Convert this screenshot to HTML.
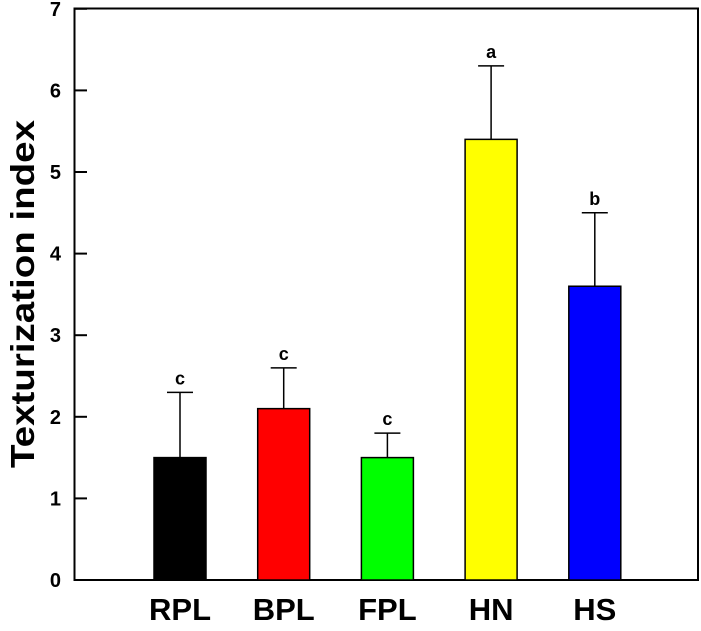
<!DOCTYPE html>
<html><head><meta charset="utf-8"><style>
html,body{margin:0;padding:0;background:#fff;}
svg text{font-family:"Liberation Sans",Arial,sans-serif;font-weight:bold;fill:#000;}
</style></head><body>
<svg id="chart" width="701" height="626" xmlns="http://www.w3.org/2000/svg">
<rect x="74.5" y="8.5" width="623.5" height="571.5" fill="none" stroke="#000" stroke-width="2"/>
<text transform="translate(34,294) rotate(-90)" text-anchor="middle" font-size="33" textLength="348" lengthAdjust="spacingAndGlyphs">Texturization index</text>
<g id="ticks"></g>
<g id="bars"></g>
</svg>
<script>
const categories = ["RPL","BPL","FPL","HN","HS"];
const values = [1.5, 2.1, 1.5, 5.4, 3.6];
const errors = [0.8, 0.5, 0.3, 0.9, 0.9];
const letters = ["c","c","c","a","b"];
const colors = ["#000000","#ff0000","#00ff00","#ffff00","#0000ff"];
const yTicks = [0,1,2,3,4,5,6,7];

const NS = "http://www.w3.org/2000/svg";
const y = v => 580 - v * 81.6;
const x = i => 180 + i * 103.7;
function mk(tag, attrs, parent){const e=document.createElementNS(NS,tag);for(const k in attrs)e.setAttribute(k,attrs[k]);parent.appendChild(e);return e;}
const tg = document.getElementById('ticks');
yTicks.forEach(t=>{
  const l = mk('line',{x1:74.5,x2:87,y1:y(t),y2:y(t),stroke:'#000','stroke-width':2},tg);
  
  
  const tx = mk('text',{x:61,y:y(t)+7,'text-anchor':'end','font-size':20},tg);
  tx.textContent = t;
  
  
});
const bg = document.getElementById('bars');
categories.forEach((c,i)=>{
  const cx = x(i), w = 52;
  const top = y(values[i]), et = y(values[i]+errors[i]);
  const el = mk('line',{x1:cx,x2:cx,y1:top,y2:et,stroke:'#000','stroke-width':1.5},bg);
  
  
  const cap = mk('line',{x1:cx-13,x2:cx+13,y1:et,y2:et,stroke:'#000','stroke-width':1.5},bg);
  
  
  const r = mk('rect',{x:cx-w/2,y:top,width:w,height:580-top,fill:colors[i],stroke:'#000','stroke-width':1.5},bg);
  
  
  const lt = mk('text',{x:cx,y:et-8,'text-anchor':'middle','font-size':18},bg);
  lt.textContent = letters[i];
  
  
  const xl = mk('text',{x:cx,y:620,'text-anchor':'middle','font-size':31},bg);
  xl.textContent = c;
  
  
});
</script>
</body></html>
